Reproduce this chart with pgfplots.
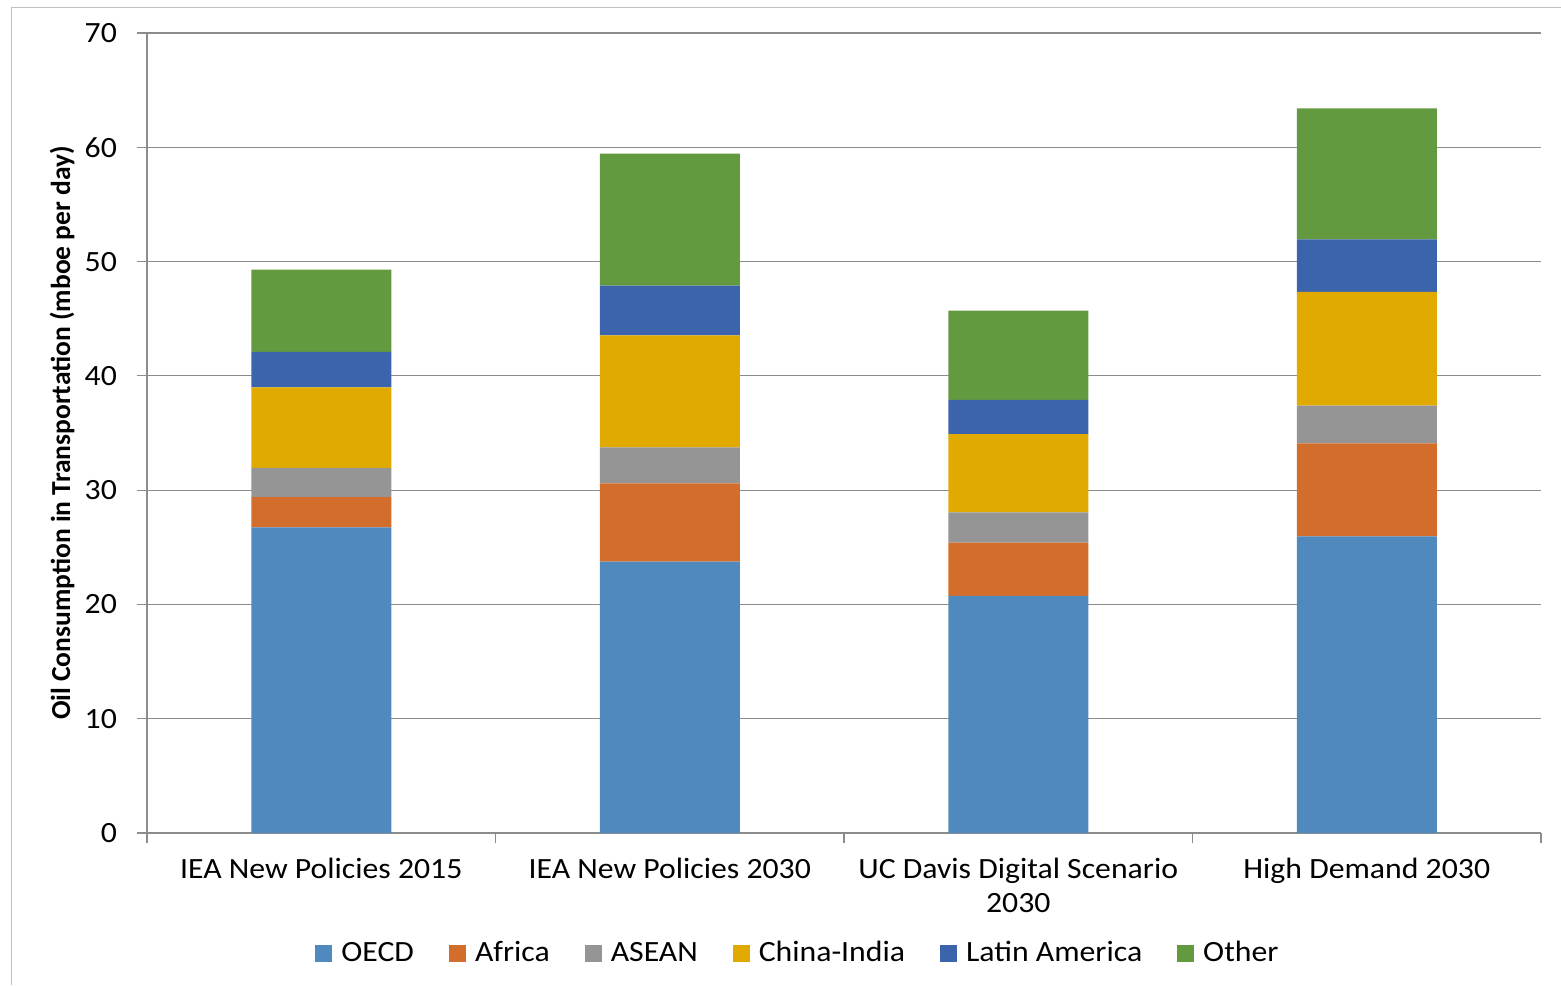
\documentclass[border=0pt]{standalone}
\usepackage{fontspec}
\setmainfont{Carlito}[FakeStretch=1.08]
\newfontfamily\ylabfont{Carlito}
\usepackage{pgfplots}
\pgfplotsset{compat=1.18}
\usepackage{pgfplotstable}

\definecolor{cOECD}{HTML}{4F89BD}
\definecolor{cAfrica}{HTML}{D36D2B}
\definecolor{cASEAN}{HTML}{959595}
\definecolor{cChinaIndia}{HTML}{E1AA00}
\definecolor{cLatAm}{HTML}{3C64AD}
\definecolor{cOther}{HTML}{639A3F}
\definecolor{axisgray}{HTML}{8C8C8C}
\definecolor{framegray}{HTML}{BFBFBF}

\pgfplotsset{
  legsq/.style={legend image code/.code={\fill[##1,draw=none] (0pt,-4.25pt) rectangle (8.5pt,4.25pt);}},
}

% oil use in transport, mboe per day, by region and scenario
\pgfplotstableread{
idx OECD  Africa ASEAN ChinaIndia LatAm Other
0   26.75 2.65   2.55  7.05       3.10  7.20
1   23.75 6.85   3.15  9.80       4.35  11.55
2   20.75 4.65   2.65  6.85       3.00  7.80
3   25.95 8.15   3.30  9.95       4.60  11.45
}\oiltable

\begin{document}
\begin{tikzpicture}
\useasboundingbox (0,0) rectangle (780.5pt,-492.5pt);
\draw[framegray, line width=0.5pt] (5.5pt,-492.5pt) -- (5.5pt,-3.5pt) -- (780.5pt,-3.5pt);
\begin{axis}[
  at={(73.5pt,-416.5pt)}, anchor=south west,
  scale only axis, width=697pt, height=400pt,
  ybar stacked, bar width=70pt,
  xmin=-0.5, xmax=3.5, ymin=0, ymax=70,
  ytick={0,10,...,70},
  xtick={-0.5,0.5,1.5,2.5,3.5}, xticklabels={},
  extra x ticks={0,1,2,3},
  extra x tick labels={IEA New Policies 2015, IEA New Policies 2030, {UC Davis Digital Scenario\\2030}, High Demand 2030},
  extra x tick style={major tick length=0pt, grid=none},
  axis x line*=bottom, axis y line*=left,
  axis line style={axisgray, line width=0.6pt},
  tick style={axisgray, line width=0.6pt},
  tick align=outside, major tick length=5pt,
  ymajorgrids, grid style={axisgray, line width=0.6pt},
  /pgf/number format/assume math mode=true,
  tick label style={font=\fontsize{14.7}{17}\selectfont, black},
  xticklabel style={align=center, yshift=-9pt},
  yticklabel style={xshift=-6.5pt},
  ylabel={\ylabfont\bfseries\fontsize{13.75}{16}\selectfont Oil Consumption in Transportation (mboe per day)},
  ylabel style={at={(axis description cs:-0.061,0.5)}, anchor=center},
  legend columns=6,
  legend style={at={(0.1205,-0.15)}, anchor=west, draw=none, fill=none,
    font=\fontsize{14.7}{17}\selectfont, inner sep=0pt,
    /tikz/every odd column/.append style={column sep=2.5pt},
    /tikz/every even column/.append style={column sep=15.5pt}},
  legend cell align=left,
]
\addplot[fill=cOECD, draw=none, legsq] table[x=idx, y=OECD] {\oiltable};
\addlegendentry{OECD}
\addplot[fill=cAfrica, draw=none, legsq] table[x=idx, y=Africa] {\oiltable};
\addlegendentry{Africa}
\addplot[fill=cASEAN, draw=none, legsq] table[x=idx, y=ASEAN] {\oiltable};
\addlegendentry{ASEAN}
\addplot[fill=cChinaIndia, draw=none, legsq] table[x=idx, y=ChinaIndia] {\oiltable};
\addlegendentry{China-India}
\addplot[fill=cLatAm, draw=none, legsq] table[x=idx, y=LatAm] {\oiltable};
\addlegendentry{Latin America}
\addplot[fill=cOther, draw=none, legsq] table[x=idx, y=Other] {\oiltable};
\addlegendentry{Other}
\end{axis}
\end{tikzpicture}
\end{document}
